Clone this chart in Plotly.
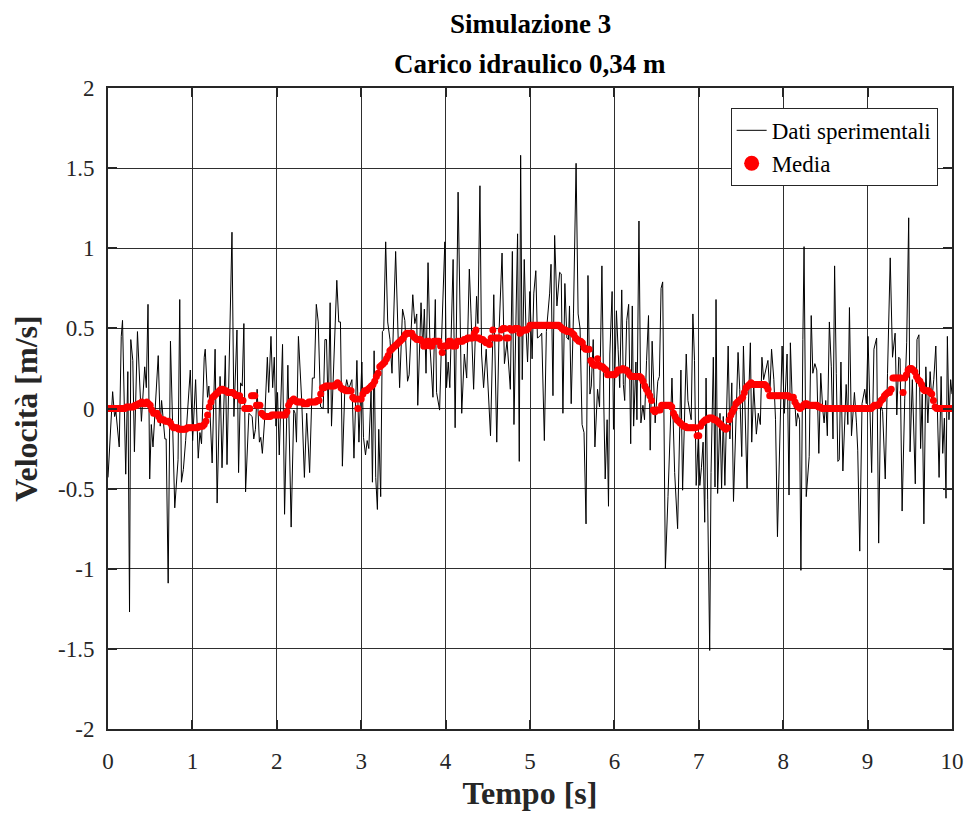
import plotly.graph_objects as go

# --- Dati sperimentali: istanti [s] e velocità [m/s] ---
tempo_dati = [
    0.00, 0.055, 0.078, 0.094, 0.133, 0.157, 0.172, 0.21, 0.235, 0.255, 0.27, 0.294, 0.313, 0.349,
    0.396, 0.435, 0.454, 0.474, 0.494, 0.513, 0.533, 0.595, 0.619, 0.635, 0.674, 0.689, 0.713, 0.74,
    0.791, 0.83, 0.85, 0.87, 0.893, 0.92, 0.975, 1.003, 1.038, 1.069, 1.089, 1.108, 1.14, 1.152,
    1.179, 1.195, 1.234, 1.269, 1.293, 1.328, 1.351, 1.39, 1.41, 1.434, 1.469, 1.492, 1.528, 1.547,
    1.571, 1.59, 1.61, 1.63, 1.669, 1.708, 1.727, 1.747, 1.767, 1.794, 1.81, 1.829, 1.857, 1.888,
    1.904, 1.931, 1.951, 1.970, 1.99, 2.009, 2.029, 2.068, 2.092, 2.131, 2.17, 2.201, 2.217, 2.233,
    2.256, 2.295, 2.327, 2.354, 2.389, 2.421, 2.444, 2.468, 2.491, 2.519, 2.55, 2.57, 2.589, 2.609,
    2.632, 2.648, 2.711, 2.734, 2.754, 2.777, 2.804, 2.828, 2.852, 2.89, 2.914, 2.949, 2.973, 3.008,
    3.027, 3.051, 3.071, 3.09, 3.117, 3.133, 3.153, 3.172, 3.192, 3.208, 3.231, 3.251, 3.267, 3.29,
    3.314, 3.341, 3.365, 3.408, 3.431, 3.455, 3.49, 3.517, 3.549, 3.568, 3.611, 3.635, 3.658, 3.67,
    3.709, 3.729, 3.748, 3.768, 3.792, 3.815, 3.85, 3.878, 3.893, 3.929, 3.952, 3.991, 4.011, 4.031,
    4.05, 4.089, 4.113, 4.148, 4.191, 4.222, 4.25, 4.281, 4.301, 4.332, 4.367, 4.383, 4.407, 4.426,
    4.45, 4.481, 4.532, 4.571, 4.606, 4.634, 4.669, 4.697, 4.728, 4.767, 4.791, 4.81, 4.853, 4.873,
    4.889, 4.908, 4.932, 4.951, 4.971, 4.998, 5.025, 5.045, 5.069, 5.088, 5.115, 5.139, 5.17, 5.194,
    5.233, 5.249, 5.272, 5.292, 5.319, 5.351, 5.37, 5.39, 5.413, 5.437, 5.456, 5.468, 5.488, 5.515,
    5.546, 5.57, 5.593, 5.617, 5.64, 5.664, 5.687, 5.71, 5.726, 5.749, 5.769, 5.8, 5.824, 5.852,
    5.875, 5.891, 5.914, 5.93, 5.946, 5.973, 5.989, 6.024, 6.044, 6.063, 6.087, 6.106, 6.122, 6.146,
    6.169, 6.193, 6.212, 6.228, 6.255, 6.267, 6.291, 6.314, 6.338, 6.357, 6.381, 6.404, 6.424, 6.447,
    6.483, 6.514, 6.533, 6.553, 6.572, 6.604, 6.635, 6.682, 6.714, 6.749, 6.788, 6.808, 6.851, 6.871,
    6.91, 6.93, 6.949, 6.969, 6.996, 7.012, 7.031, 7.051, 7.07, 7.086, 7.105, 7.129, 7.145, 7.172,
    7.192, 7.204, 7.223, 7.251, 7.27, 7.29, 7.309, 7.348, 7.368, 7.391, 7.411, 7.45, 7.465, 7.485,
    7.509, 7.529, 7.552, 7.572, 7.587, 7.611, 7.627, 7.651, 7.682, 7.705, 7.729, 7.748, 7.768, 7.791,
    7.819, 7.842, 7.862, 7.889, 7.909, 7.932, 7.967, 7.987, 8.014, 8.046, 8.069, 8.085, 8.108, 8.132,
    8.155, 8.171, 8.194, 8.21, 8.233, 8.247, 8.273, 8.308, 8.332, 8.351, 8.375, 8.398, 8.422, 8.445,
    8.469, 8.485, 8.504, 8.523, 8.547, 8.57, 8.59, 8.609, 8.629, 8.648, 8.664, 8.684, 8.707, 8.727,
    8.746, 8.766, 8.785, 8.809, 8.844, 8.868, 8.883, 8.907, 8.934, 8.966, 8.985, 9.005, 9.024, 9.048,
    9.075, 9.107, 9.131, 9.154, 9.178, 9.209, 9.236, 9.268, 9.295, 9.326, 9.346, 9.369, 9.385, 9.409,
    9.44, 9.463, 9.487, 9.503, 9.53, 9.565, 9.585, 9.608, 9.628, 9.647, 9.667, 9.69, 9.714, 9.741,
    9.761, 9.784, 9.808, 9.823, 9.847, 9.871, 9.89, 9.91, 9.929, 9.945, 9.964, 9.984, 10.0,
]
velocita_dati = [
    -0.43, 0.105, -0.05, -0.02, -0.24, 0.45, 0.55, -0.41, 0.23, -1.27, 0.43, 0.30, -0.27, 0.48,
    -0.08, 0.26, 0.13, 0.65, -0.44, -0.10, -0.24, 0.33, -0.11, 0.05, -0.19, -0.19, -1.09, 0.42,
    -0.62, -0.32, 0.68, -0.46, -0.38, -0.20, 0.24, -0.20, 0.18, -0.31, -0.15, -0.22, 0.32, 0.37,
    0.07, 0.14, -0.34, 0.37, -0.59, 0.20, -0.37, 0.33, -0.35, 0.17, 1.10, -0.05, 0.49, -0.40,
    0.16, 0.14, 0.53, -0.52, -0.03, -0.05, -0.19, -0.13, 0.12, -0.21, -0.18, -0.28, -0.06, 0.32,
    0.10, 0.45, 0.13, 0.32, -0.11, 0.10, -0.29, 0.40, -0.66, 0.27, -0.74, -0.01, -0.03, -0.21,
    0.45, 0.05, -0.43, -0.03, -0.40, 0.19, 0.19, 0.65, 0.54, 0.01, 0.00, 0.43, 0.43, -0.03,
    0.66, -0.11, 0.80, 0.54, 0.54, -0.36, 0.09, 0.18, 0.12, 0.18, -0.31, 0.30, -0.21, 0.29,
    -0.18, -0.29, -0.20, -0.25, 0.11, -0.46, 0.36, -0.43, -0.63, -0.13, -0.55, 0.48, 0.49, 1.04,
    0.54, 0.43, 0.22, 0.98, 0.47, 0.13, 0.62, 0.55, 0.17, 0.21, 0.71, 0.53, 0.59, 0.02,
    0.66, 0.37, 0.62, 0.22, 0.91, 0.39, 0.07, 0.68, 0.10, -0.01, 0.43, 1.04, 0.13, 0.29,
    0.13, 0.93, -0.12, 1.35, -0.03, 0.34, 0.19, 0.87, 0.59, 0.12, 0.70, 0.53, 1.39, 0.34,
    0.13, 0.37, -0.17, 0.71, -0.21, 0.49, 0.97, 0.28, 0.42, 0.12, 0.98, -0.10, 1.09, -0.33,
    1.58, 0.18, 0.93, 0.52, 0.29, 0.73, 0.31, 0.72, 0.86, 0.44, 0.45, 0.47, -0.20, 0.48,
    0.72, 0.90, 0.08, 1.08, 0.64, 0.85, 0.84, -0.03, 0.78, 0.44, 0.43, 0.64, 0.03, 0.59,
    1.53, 0.59, 0.50, -0.10, -0.15, -0.72, 0.83, 0.09, 0.14, 0.43, -0.24, 0.12, 0.01, 0.89,
    0.01, -0.44, -0.07, -0.61, 0.34, 0.73, -0.13, 0.61, 0.37, 0.13, 0.74, 0.15, 0.05, 0.55,
    0.65, -0.22, 0.64, -0.11, 0.29, -0.07, 1.17, -0.09, 0.02, -0.07, 0.30, 0.58, -0.26, 0.42,
    -0.09, 0.17, 0.20, 0.75, 0.79, -1.00, -0.55, 0.19, -0.40, -0.75, 0.24, -0.51, 0.34, 0.05,
    -0.07, 0.59, 0.30, -0.48, -0.16, -0.48, -0.37, -0.21, -0.71, 0.19, -0.57, -1.51, -0.40, 0.32,
    -0.49, 0.68, -0.53, -0.03, -0.50, -0.05, -0.48, 0.39, -0.19, 0.16, -0.58, 0.20, 0.35, 0.12,
    -0.30, 0.39, -0.18, -0.50, 0.00, 0.41, -0.21, 0.14, -0.16, -0.03, -0.10, 0.32, 0.18, 0.24,
    0.30, 0.09, 0.37, 0.18, -0.07, -0.80, 0.09, 0.39, -0.03, 0.34, -0.54, 0.41, 0.03, 0.09,
    -0.11, -0.03, -0.07, -1.01, 0.43, 1.01, -0.55, -0.30, 0.58, 0.22, 0.28, 0.24, -0.28, 0.22,
    -0.01, -0.09, 0.05, -0.17, 0.54, 0.26, -0.19, 0.89, 0.22, -0.33, -0.32, 0.29, -0.39, -0.05,
    0.15, -0.10, 0.63, -0.17, 0.10, -0.09, -0.26, -0.89, 0.03, 0.12, 0.03, 0.45, 0.01, -0.40,
    0.37, 0.44, -0.84, 0.03, -0.02, -0.44, 0.22, 0.94, 0.32, 0.47, -0.04, 0.32, 0.31, -0.64,
    0.06, 0.41, 1.19, -0.27, 0.18, -0.47, 0.43, 0.46, -0.25, 0.09, -0.72, 0.26, -0.09, 0.23,
    0.05, 0.18, 0.39, 0.05, -0.43, 0.20, -0.28, -0.06, -0.56, 0.45, -0.07, 0.18, 0.09,
]

# --- Media mobile, un valore ogni 0.02 s (da 0 a 10 s) ---
passo_media = 0.02
velocita_media = [
    # 0 - 1 s
    0.00, 0.00, 0.00, 0.00, 0.00, 0.00, 0.00, 0.00, 0.00, 0.00,
    0.00, 0.01, 0.01, 0.01, 0.01, 0.01, 0.02, 0.02, 0.03, 0.03,
    0.04, 0.03, 0.03, 0.04, 0.03, 0.02, -0.01, -0.03, -0.03, -0.03,
    -0.05, -0.07, -0.07, -0.07, -0.08, -0.08, -0.08, -0.09, -0.11, -0.12,
    -0.12, -0.12, -0.13, -0.13, -0.13, -0.13, -0.13, -0.12, -0.12, -0.12,
    # 1 - 2 s
    -0.12, -0.12, -0.12, -0.12, -0.11, -0.11, -0.11, -0.10, -0.08, -0.04,
    0.01, 0.04, 0.07, 0.08, 0.09, 0.10, 0.11, 0.12, 0.12, 0.11,
    0.11, 0.10, 0.10, 0.10, 0.10, 0.09, 0.08, 0.08, 0.08, 0.05,
    0.05, 0.00, 0.00, 0.00, 0.00, 0.08, 0.08, 0.08, 0.02, 0.02,
    0.02, -0.03, -0.04, -0.05, -0.05, -0.05, -0.05, -0.04, -0.04, -0.04,
    # 2 - 3 s
    -0.04, -0.04, -0.04, -0.04, -0.04, -0.04, -0.02, 0.02, 0.04, 0.05,
    0.06, 0.05, 0.04, 0.04, 0.04, 0.04, 0.03, 0.03, 0.03, 0.04,
    0.04, 0.04, 0.04, 0.04, 0.05, 0.05, 0.09, 0.13, 0.13, 0.14,
    0.14, 0.14, 0.14, 0.14, 0.14, 0.15, 0.16, 0.15, 0.13, 0.12,
    0.12, 0.11, 0.11, 0.11, 0.11, 0.07, 0.06, 0.06, 0.00, 0.06,
    # 3 - 4 s
    0.06, 0.09, 0.11, 0.11, 0.12, 0.13, 0.14, 0.15, 0.17, 0.20,
    0.22, 0.26, 0.27, 0.28, 0.29, 0.31, 0.33, 0.36, 0.37, 0.38,
    0.39, 0.40, 0.41, 0.42, 0.43, 0.44, 0.46, 0.47, 0.47, 0.47,
    0.47, 0.45, 0.44, 0.43, 0.43, 0.43, 0.42, 0.39, 0.39, 0.42,
    0.42, 0.39, 0.39, 0.42, 0.42, 0.42, 0.42, 0.39, 0.35, 0.39,
    # 4 - 5 s
    0.39, 0.39, 0.42, 0.42, 0.39, 0.39, 0.39, 0.42, 0.42, 0.42,
    0.42, 0.43, 0.43, 0.44, 0.44, 0.44, 0.44, 0.47, 0.49, 0.44,
    0.44, 0.43, 0.43, 0.42, 0.41, 0.41, 0.40, 0.44, 0.49, 0.44,
    0.44, 0.44, 0.44, 0.49, 0.50, 0.50, 0.44, 0.44, 0.50, 0.49,
    0.49, 0.50, 0.50, 0.50, 0.47, 0.48, 0.49, 0.49, 0.49, 0.50,
    # 5 - 6 s
    0.52, 0.52, 0.52, 0.52, 0.52, 0.52, 0.52, 0.52, 0.52, 0.52,
    0.52, 0.52, 0.52, 0.52, 0.52, 0.52, 0.52, 0.52, 0.51, 0.50,
    0.49, 0.49, 0.48, 0.48, 0.48, 0.47, 0.46, 0.44, 0.43, 0.42,
    0.42, 0.41, 0.38, 0.37, 0.37, 0.37, 0.30, 0.28, 0.27, 0.27,
    0.31, 0.27, 0.26, 0.26, 0.25, 0.24, 0.21, 0.21, 0.21, 0.21,
    # 6 - 7 s
    0.21, 0.22, 0.24, 0.24, 0.24, 0.25, 0.24, 0.24, 0.23, 0.21,
    0.20, 0.20, 0.20, 0.20, 0.20, 0.20, 0.19, 0.17, 0.14, 0.12,
    0.10, 0.08, 0.05, -0.01, -0.02, -0.01, -0.01, -0.01, 0.02, 0.02,
    0.02, 0.02, 0.02, 0.02, 0.01, -0.03, -0.05, -0.07, -0.08, -0.09,
    -0.10, -0.11, -0.11, -0.12, -0.12, -0.12, -0.12, -0.12, -0.12, -0.17,
    # 7 - 8 s
    -0.17, -0.11, -0.09, -0.08, -0.07, -0.07, -0.06, -0.06, -0.06, -0.07,
    -0.07, -0.08, -0.09, -0.10, -0.11, -0.12, -0.13, -0.12, -0.07, -0.04,
    -0.02, 0.00, 0.03, 0.04, 0.05, 0.06, 0.07, 0.10, 0.13, 0.14,
    0.15, 0.16, 0.15, 0.15, 0.15, 0.15, 0.15, 0.15, 0.15, 0.15,
    0.14, 0.12, 0.08, 0.08, 0.08, 0.08, 0.08, 0.08, 0.08, 0.08,
    # 8 - 9 s
    0.08, 0.08, 0.08, 0.08, 0.07, 0.07, 0.07, 0.04, 0.02, 0.01,
    0.00, 0.01, 0.02, 0.03, 0.03, 0.02, 0.02, 0.02, 0.02, 0.02,
    0.02, 0.01, 0.01, 0.00, 0.00, 0.00, 0.00, 0.00, 0.00, 0.00,
    0.00, 0.00, 0.00, 0.00, 0.00, 0.00, 0.00, 0.00, 0.00, 0.00,
    0.00, 0.00, 0.00, 0.00, 0.00, 0.00, 0.00, 0.00, 0.00, 0.00,
    # 9 - 10 s
    0.00, 0.00, 0.00, 0.01, 0.02, 0.02, 0.02, 0.03, 0.05, 0.06,
    0.08, 0.09, 0.10, 0.10, 0.12, 0.19, 0.19, 0.19, 0.19, 0.19,
    0.19, 0.10, 0.19, 0.21, 0.24, 0.25, 0.25, 0.24, 0.23, 0.20,
    0.18, 0.17, 0.15, 0.12, 0.11, 0.11, 0.11, 0.10, 0.09, 0.05,
    0.01, 0.00, 0.00, 0.00, 0.00, 0.00, 0.00, 0.00, 0.00, 0.00,
    # 10 s
    0.00,
]
tempo_media = [round(i * passo_media, 2) for i in range(len(velocita_media))]

# --- Etichette degli assi ---
tick_x = [0, 1, 2, 3, 4, 5, 6, 7, 8, 9, 10]
tick_x_testo = ["0", "1", "2", "3", "4", "5", "6", "7", "8", "9", "10"]
tick_y = [-2, -1.5, -1, -0.5, 0, 0.5, 1, 1.5, 2]
tick_y_testo = ["-2", "-1.5", "-1", "-0.5", "0", "0.5", "1", "1.5", "2"]

FONT = "Liberation Serif"
GRIGIO = "#262626"

fig = go.Figure()
fig.add_trace(go.Scatter(
    x=tempo_dati, y=velocita_dati, mode="lines",
    line=dict(color="black", width=1),
    name="Dati sperimentali",
))
fig.add_trace(go.Scatter(
    x=tempo_media, y=velocita_media, mode="markers",
    marker=dict(color="#ff0000", size=7, line=dict(width=0)),
    name="Media", showlegend=False, legendgroup="media",
))
# voce di legenda con il pallino grande
fig.add_trace(go.Scatter(
    x=[None], y=[None], mode="markers",
    marker=dict(color="#ff0000", size=15, line=dict(width=0)),
    name="Media", legendgroup="media",
))

asse = dict(
    showgrid=True, gridcolor="#2e2e2e", gridwidth=1.2,
    showline=True, linecolor=GRIGIO, linewidth=2, mirror="ticks",
    ticks="inside", ticklen=9, tickwidth=2, tickcolor=GRIGIO,
    tickfont=dict(family=FONT, size=23, color=GRIGIO),
    zeroline=False,
)
fig.update_xaxes(
    range=[0, 10], tickvals=tick_x, ticktext=tick_x_testo, ticklabelstandoff=10,
    title=dict(text="<b>Tempo [s]</b>", font=dict(family=FONT, size=32, color=GRIGIO), standoff=9),
    **asse,
)
fig.update_yaxes(
    range=[-2, 2], tickvals=tick_y, ticktext=tick_y_testo, ticklabelstandoff=7,
    title=dict(text="<b>Velocità [m/s]</b>", font=dict(family=FONT, size=32, color=GRIGIO), standoff=11),
    **asse,
)

fig.add_annotation(text="<b>Simulazione 3</b>", x=0.5, y=(729 - 24) / 641, xref="paper", yref="paper",
                   showarrow=False, xanchor="center", yanchor="middle",
                   font=dict(family=FONT, size=27, color="black"))
fig.add_annotation(text="<b>Carico idraulico 0,34 m</b>", x=0.5, y=(729 - 64) / 641, xref="paper", yref="paper",
                   showarrow=False, xanchor="center", yanchor="middle",
                   font=dict(family=FONT, size=27, color="black"))

fig.update_layout(
    width=976, height=821,
    margin=dict(l=108, r=17, t=88, b=92),
    paper_bgcolor="white", plot_bgcolor="white",
    showlegend=True,
    legend=dict(
        x=0.983, y=0.969, xanchor="right", yanchor="top",
        bgcolor="white", bordercolor=GRIGIO, borderwidth=1,
        font=dict(family=FONT, size=23, color="black"),
        tracegroupgap=0,
    ),
)

fig.write_html("out.html")
